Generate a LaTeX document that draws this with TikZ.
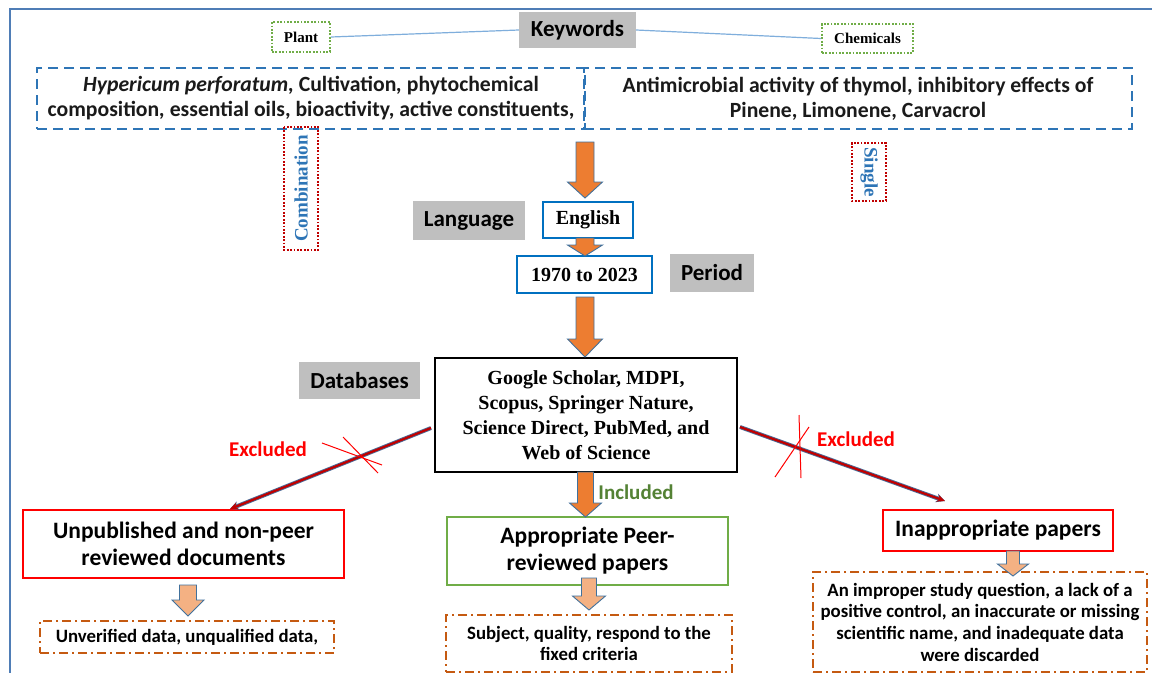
\documentclass[tikz,border=0pt]{standalone}
\usepackage{fontspec}
\setmainfont{Liberation Serif}
\newfontfamily\calfont{Carlito}
\usetikzlibrary{arrows.meta,calc}
\definecolor{framec}{HTML}{4F7DB6}
\definecolor{grayc}{HTML}{BFBFBF}
\definecolor{kwblue}{HTML}{2E75B6}
\definecolor{linkblue}{HTML}{7FAEDC}
\definecolor{dotgreen}{HTML}{70AD47}
\definecolor{dotred}{HTML}{C00000}
\definecolor{boxblue}{HTML}{0070C0}
\definecolor{orangec}{HTML}{ED7D31}
\definecolor{peachc}{HTML}{F4B183}
\definecolor{arrowedge}{HTML}{41719C}
\definecolor{brownc}{HTML}{C55A11}
\definecolor{redc}{HTML}{FF0000}
\definecolor{darkredc}{HTML}{C00000}
\definecolor{greenc}{HTML}{70AD47}
\definecolor{inclgreen}{HTML}{548235}
\definecolor{exedge}{HTML}{4A6A96}
\definecolor{textc}{HTML}{1A1A1A}
\tikzset{
  graybox/.style={fill=grayc, inner sep=0pt, font=\calfont\bfseries\fontsize{23}{27}\selectfont},
  greendot/.style={draw=dotgreen, line width=1.8pt, dash pattern=on 1.8pt off 1.6pt, inner sep=0pt, font=\bfseries\fontsize{15}{17}\selectfont},
  reddot/.style={draw=dotred, line width=1.8pt, dash pattern=on 1.8pt off 1.6pt, inner sep=0pt, text=kwblue, font=\bfseries\fontsize{19}{22}\selectfont},
  kwbox/.style={draw=kwblue, line width=2.2pt, dash pattern=on 10pt off 6pt, inner sep=0pt, align=center, text=textc, font=\calfont\bfseries\fontsize{21.7}{25}\selectfont},
  kwline/.style={draw=linkblue, line width=1.2pt},
  bluebox/.style={draw=boxblue, line width=2.4pt, fill=white, inner sep=0pt, font=\bfseries\fontsize{20}{24}\selectfont},
  dbbox/.style={draw=black, line width=2.4pt, fill=white, inner sep=0pt, align=center, font=\bfseries\fontsize{20}{25}\selectfont},
  bigbox/.style={line width=2.2pt, fill=white, inner sep=0pt, align=center, font=\calfont\bfseries\fontsize{23.5}{27}\selectfont},
  notebox/.style={draw=brownc, line width=2pt, dash pattern=on 9pt off 4pt on 2pt off 4pt, inner sep=0pt, align=center, font=\calfont\bfseries\fontsize{18.8}{21.7}\selectfont},
  orangearrow/.style={fill=orangec, draw=arrowedge, line width=0.9pt, line join=miter},
  peacharrow/.style={fill=peachc, draw=arrowedge, line width=0.9pt, line join=miter},
  exarrow/.style={draw=darkredc, line width=2.2pt, -{Stealth[length=8pt,width=7pt]},
    preaction={draw=exedge, line width=4pt, -{Stealth[length=9pt,width=9pt]}}},
  crossline/.style={draw=redc, line width=1pt},
  exlabel/.style={text=redc, inner sep=0pt, font=\calfont\bfseries\fontsize{21}{24}\selectfont},
  inlabel/.style={text=inclgreen, inner sep=0pt, font=\calfont\bfseries\fontsize{21}{24}\selectfont},
  framel/.style={draw=framec, line width=2pt}
}
% #1 style, #2 top coordinate, #3 tip coordinate, #4 shaft half width, #5 head half width, #6 head length
\newcommand{\blockarr}[6]{%
  \draw[#1] ($(#2)+(-#4,0)$) -- ($(#2)+(#4,0)$) -- ($(#3)+(#4,-#6)$) -- ($(#3)+(#5,-#6)$) -- (#3)
    -- ($(#3)+(-#5,-#6)$) -- ($(#3)+(-#4,-#6)$) -- cycle;}
\begin{document}
\begin{tikzpicture}[x=1pt,y=-1pt]
\useasboundingbox (0,0) rectangle (1152,673);
\fill[white] (0,0) rectangle (1152,673);
% frame
\coordinate (fTL) at (10,9);
\coordinate (fTR) at (1152,9);
\coordinate (fBL) at (10,673);
\draw[framel] (fTR) -- (fTL) -- (fBL);

% keywords row
\node[graybox, minimum width=117, minimum height=36] (kw) at (577.5,30) {Keywords};
\node[greendot, minimum width=58, minimum height=30] (plant) at (301,37) {Plant};
\node[greendot, minimum width=91, minimum height=29] (chem) at (867.5,38.5) {Chemicals};
\draw[kwline] (plant.east) -- (kw.west);
\draw[kwline] (kw.east) -- (chem.west);

% keyword boxes
\node[kwbox, minimum width=548, minimum height=61] (kwl) at (311,98.5)
  {\textit{Hypericum perforatum,} Cultivation\textit{,} phytochemical\\composition\textit{,} essential oils, bioactivity, active constituents,};
\node[kwbox, minimum width=548, minimum height=61] (kwr) at (858,98.5)
  {Antimicrobial activity of thymol, inhibitory effects of\\Pinene, Limonene, Carvacrol};

\node[reddot, rotate=90, minimum width=123, minimum height=34] (comb) at (301,188.5) {Combination};
\node[reddot, rotate=-90, minimum width=58, minimum height=34] (single) at (869,172) {Single};

% language / period
\node[graybox, minimum width=112, minimum height=39] (lang) at (469,220.5) {Language};
\node[bluebox, minimum width=90, minimum height=36] (eng) at (588,220) {English};
\node[bluebox, minimum width=135, minimum height=37] (per) at (584.5,274.5) {1970 to 2023};
\node[graybox, minimum width=84, minimum height=38] (period) at (712,273) {Period};

% databases
\node[graybox, minimum width=121, minimum height=37] (dbl) at (359.5,380.5) {Databases};
\node[dbbox, minimum width=302, minimum height=114] (db) at (586,415)
  {Google Scholar, MDPI,\\Scopus, Springer Nature,\\Science Direct, PubMed, and\\Web of Science};

% outcome boxes
\node[bigbox, draw=redc, minimum width=321, minimum height=68] (unpub) at (183.5,544)
  {Unpublished and non-peer\\reviewed documents};
\node[bigbox, draw=greenc, minimum width=281, minimum height=68] (appr) at (587.5,551)
  {Appropriate Peer-\\reviewed papers};
\node[bigbox, draw=redc, minimum width=230, minimum height=41] (inappr) at (998,530.5)
  {Inappropriate papers};

% notes
\node[notebox, minimum width=294, minimum height=32] (unver) at (187,637) {Unverified data, unqualified data,};
\node[notebox, minimum width=286, minimum height=57] (subj) at (589,643.5) {Subject, quality, respond to the\\fixed criteria};
\node[notebox, minimum width=334, minimum height=100] (disc) at (980,622)
  {An improper study question, a lack of a\\positive control, an inaccurate or missing\\scientific name, and inadequate data\\were discarded};

% orange block arrows
\coordinate (a1t) at (585,142); \coordinate (a1b) at (585,198);
\coordinate (a2t) at (585,238); \coordinate (a2b) at (585,256);
\coordinate (a3t) at (585,297); \coordinate (a3b) at (585,357);
\coordinate (a4t) at (585.5,472); \coordinate (a4b) at (585.5,517);
\blockarr{orangearrow}{a1t}{a1b}{9}{17.5}{16}
\blockarr{orangearrow}{a2t}{a2b}{9}{17.5}{11}
\blockarr{orangearrow}{a3t}{a3b}{9}{17.5}{18}
\blockarr{orangearrow}{a4t}{a4b}{8}{16}{14}
\node[inlabel] (incl) at (636,492) {Included};

% peach arrows
\coordinate (p1t) at (188,585); \coordinate (p1b) at (188,616);
\coordinate (p2t) at (589,578); \coordinate (p2b) at (589,610);
\coordinate (p3t) at (1013,551); \coordinate (p3b) at (1013,576);
\blockarr{peacharrow}{p1t}{p1b}{8.5}{16}{16}
\blockarr{peacharrow}{p2t}{p2b}{7.5}{16.5}{14}
\blockarr{peacharrow}{p3t}{p3b}{6.5}{15.5}{12}

% excluded arrows
\coordinate (exLs) at (431,428); \coordinate (exLe) at (230,509);
\coordinate (exRs) at (740,427); \coordinate (exRe) at (945,501);
\draw[exarrow] (exLs) -- (exLe);
\draw[exarrow] (exRs) -- (exRe);
\node[exlabel] (exlt) at (268,449) {Excluded};
\node[exlabel] (exrt) at (856,439) {Excluded};

% crosses
\coordinate (c1a) at (322,443); \coordinate (c1b) at (382,465);
\coordinate (c2a) at (343,437); \coordinate (c2b) at (378,473);
\coordinate (c3a) at (775,477); \coordinate (c3b) at (809,427);
\coordinate (c4a) at (799,415); \coordinate (c4b) at (801,478);
\draw[crossline] (c1a) -- (c1b);
\draw[crossline] (c2a) -- (c2b);
\draw[crossline] (c3a) -- (c3b);
\draw[crossline] (c4a) -- (c4b);
\end{tikzpicture}
\end{document}
